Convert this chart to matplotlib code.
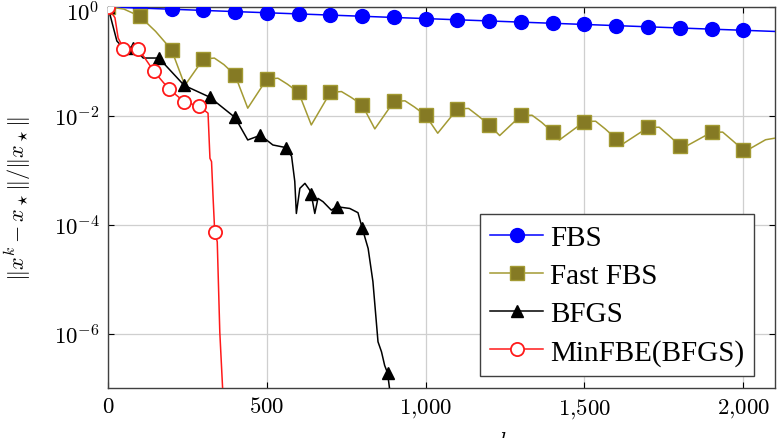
import matplotlib
matplotlib.use("Agg")
import matplotlib.pyplot as plt
import matplotlib.transforms as mtransforms
import numpy as np

plt.rcParams['mathtext.fontset'] = 'cm'
plt.rcParams['font.family'] = 'Liberation Serif'

# FBS: value every 100 iterations
fbs_k = [0, 100, 200, 300, 400, 500, 600, 700, 800, 900, 1000, 1100, 1200, 1300,
         1400, 1500, 1600, 1700, 1800, 1900, 2000, 2100]
fbs_val = [1.0, 0.952, 0.906, 0.862, 0.820, 0.781, 0.743, 0.707, 0.673, 0.640,
           0.610, 0.580, 0.552, 0.525, 0.500, 0.476, 0.453, 0.431, 0.410, 0.390,
           0.372, 0.354]

# Fast FBS (log10 of the error), markers at multiples of 100
ffbs_k = [0, 50, 100, 150, 200, 242, 300, 335, 365, 400, 440, 500, 535, 565, 600,
          640, 700, 735, 765, 800, 840, 900, 935, 965, 1000, 1038, 1100, 1135, 1165,
          1200, 1233, 1300, 1335, 1365, 1400, 1421, 1500, 1535, 1565, 1600, 1619,
          1700, 1735, 1765, 1800, 1808, 1900, 1935, 1965, 2000, 2010, 2070, 2100]
ffbs_log = [0.0, -0.04, -0.171, -0.45, -0.786, -1.442, -0.958, -0.94, -1.06, -1.252,
            -1.86, -1.326, -1.31, -1.42, -1.571, -2.168, -1.571, -1.555, -1.66,
            -1.799, -2.241, -1.737, -1.725, -1.84, -1.994, -2.32, -1.873, -1.865,
            -2.0, -2.168, -2.363, -1.994, -1.99, -2.12, -2.302, -2.444, -2.105,
            -2.10, -2.24, -2.425, -2.523, -2.215, -2.21, -2.36, -2.547, -2.597,
            -2.302, -2.30, -2.45, -2.628, -2.64, -2.44, -2.41]

# BFGS (log10), markers every 80 iterations
bfgs_k = [0, 28, 38, 80, 111, 160, 240, 320, 400, 440, 480, 519, 560, 578, 588, 593,
          604, 620, 635, 640, 651, 661, 677, 703, 720, 761, 787, 800, 819, 834, 850,
          861, 871, 880, 895]
bfgs_log = [0.0, -0.626, -0.69, -0.755, -0.939, -0.939, -1.442, -1.657, -2.031,
            -2.444, -2.357, -2.536, -2.584, -2.744, -3.204, -3.794, -3.333, -3.241,
            -3.365, -3.444, -3.794, -3.517, -3.578, -3.733, -3.670, -3.702, -3.78,
            -4.057, -4.438, -5.046, -6.151, -6.335, -6.587, -6.722, -7.4]
bfgs_marks = [0, 80, 160, 240, 320, 400, 480, 560, 640, 720, 800, 880]

# MinFBE(BFGS) (log10), markers every 48 iterations
mfbe_k = [0, 22, 32, 43, 48, 96, 144, 192, 240, 288, 315, 321, 326, 331, 336, 344,
          352, 361, 366]
mfbe_log = [0.0, -0.2, -0.571, -0.694, -0.768, -0.768, -1.179, -1.510, -1.740,
            -1.829, -1.952, -2.781, -2.842, -3.517, -4.131, -4.315, -5.972, -7.02,
            -7.4]
mfbe_marks = [0, 48, 96, 144, 192, 240, 288, 336]

xticks = [0, 500, 1000, 1500, 2000]
xticklabels = ['$0$', '$500$', '$1{,}000$', '$1{,}500$', '$2{,}000$']
yticks = [1e0, 1e-2, 1e-4, 1e-6]
yticklabels = ['$10^{0}$', '$10^{-2}$', '$10^{-4}$', '$10^{-6}$']

fig = plt.figure(figsize=(7.79, 4.39), dpi=100)
ax = fig.add_axes([0.1386, 0.1139, 0.8564, 0.8681])

ax.plot(fbs_k, fbs_val, color='#0000ff', lw=1.1, marker='o', ms=10,
        markevery=list(range(21)), label='FBS', zorder=3)

ffbs_y = 10 ** np.array(ffbs_log)
ffbs_idx = [i for i, k in enumerate(ffbs_k) if k % 100 == 0 and k <= 2000]
ax.plot(ffbs_k, ffbs_y, color='#a39a33', lw=1.1, marker='s', ms=9.5,
        mfc='#857a24', mec='#a39a33', markevery=ffbs_idx, label='Fast FBS', zorder=3)

bfgs_y = 10 ** np.array(bfgs_log)
bfgs_idx = [bfgs_k.index(k) for k in bfgs_marks]
ax.plot(bfgs_k, bfgs_y, color='black', lw=1.1, marker='^', ms=8.5,
        markevery=bfgs_idx, label='BFGS', zorder=4)

mfbe_y = 10 ** np.array(mfbe_log)
mfbe_idx = [mfbe_k.index(k) for k in mfbe_marks]
ax.plot(mfbe_k, mfbe_y, color='#ff1a1a', lw=1.1, marker='o', ms=9.5, mfc='white',
        mec='#ff1a1a', mew=1.3, markevery=mfbe_idx, label='MinFBE(BFGS)', zorder=5)

ax.set_yscale('log')
ax.set_xlim(0, 2100)
ax.set_ylim(1e-7, 1.0)
ax.set_xticks(xticks)
ax.set_xticklabels(xticklabels)
ax.set_yticks(yticks)
ax.set_yticklabels(yticklabels)
ax.yaxis.set_minor_locator(matplotlib.ticker.NullLocator())
ax.tick_params(which='both', direction='in', top=True, right=True, length=4,
               width=0.8, labelsize=16.5, pad=6)
ax.grid(True, color='#cfcfcf', lw=0.9)
ax.set_axisbelow(True)
for s in ax.spines.values():
    s.set_color('#404040')
    s.set_linewidth(1.0)

# nudge the top tick label down so its exponent stays inside the figure
top_label = ax.get_yticklabels()[0]
top_label.set_transform(top_label.get_transform() +
                        mtransforms.ScaledTranslation(0, -3 / 72, fig.dpi_scale_trans))

ax.set_ylabel(r'$\|x^k - x_\star\|/\|x_\star\|$', fontsize=16, labelpad=15)
fig.text(505 / 779, 1 - 432 / 439, '$k$', fontsize=16, ha='center', va='top')

leg = ax.legend(loc='lower right', bbox_to_anchor=(0.969, 0.032), fontsize=21,
                frameon=True, fancybox=False, framealpha=1, edgecolor='#404040',
                borderpad=0.35, labelspacing=0.4, handlelength=1.8,
                handletextpad=0.25, borderaxespad=0)
leg.get_frame().set_linewidth(1.0)

fig.savefig('out.png', dpi=100)
